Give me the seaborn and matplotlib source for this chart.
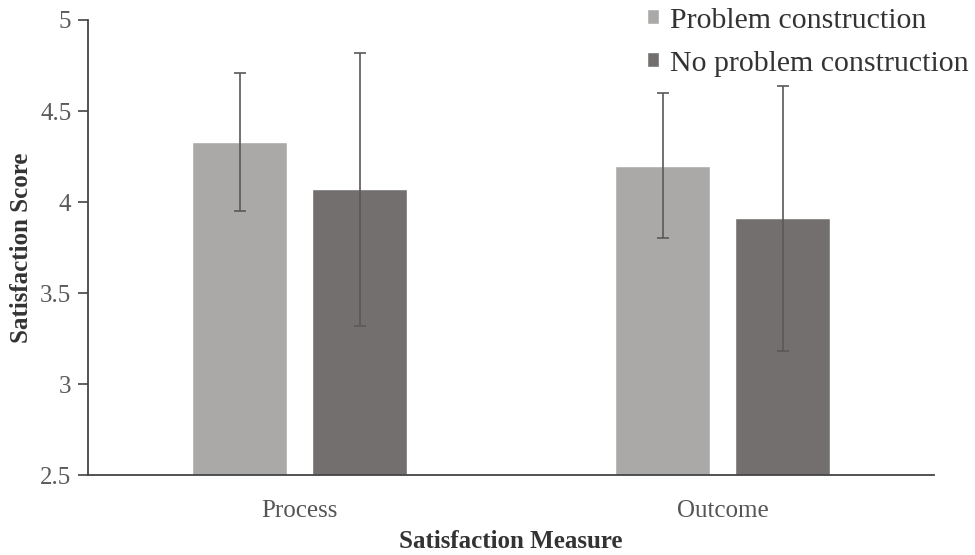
import pandas as pd
import matplotlib
matplotlib.use("Agg")
import matplotlib.pyplot as plt
import seaborn as sns

measures = ["Process", "Outcome"]
conditions = ["Problem construction", "No problem construction"]
means_pc = [4.33, 4.20]
means_npc = [4.07, 3.91]
err_pc = [0.38, 0.40]
err_npc = [0.75, 0.73]

df = pd.DataFrame({
    "Measure": measures * 2,
    "Condition": [conditions[0]] * 2 + [conditions[1]] * 2,
    "Score": means_pc + means_npc,
    "Err": err_pc + err_npc,
})

sns.set_style("white")
plt.rcParams["font.family"] = ["Liberation Serif", "DejaVu Serif"]

fig = plt.figure(figsize=(9.75, 5.55), dpi=100)
ax = fig.add_axes([0.0903, 0.144, 0.868, 0.820])

palette = {conditions[0]: "#aba8a8", conditions[1]: "#736f6f"}
sns.barplot(data=df, x="Measure", y="Score", hue="Condition", order=measures,
            hue_order=conditions, palette=palette, width=0.568, gap=0.21,
            errorbar=None, saturation=1, ax=ax)

# error bars on top of the bars seaborn drew
for cont, cond in zip(ax.containers, conditions):
    sub = df[df["Condition"] == cond].set_index("Measure").loc[measures]
    xs = [p.get_x() + p.get_width() / 2 for p in cont.patches]
    ys = [p.get_height() for p in cont.patches]
    ax.errorbar(xs, ys, yerr=sub["Err"].values, fmt="none", ecolor="#5a5858",
                elinewidth=1.2, capsize=4, capthick=1.2)

ax.set_ylim(2.5, 5)
ax.set_xlim(-0.5, 1.5)
ax.set_yticks([2.5, 3, 3.5, 4, 4.5, 5])
ax.set_yticklabels(["2.5", "3", "3.5", "4", "4.5", "5"])
for bar in ax.patches:
    bar.set_y(2.5)
    bar.set_height(bar.get_height() - 2.5)

ax.set_xticks([0, 1])
ax.set_xticks([-0.5, 0.5, 1.5], minor=True)
ax.tick_params(axis="x", which="major", length=0, pad=18, labelsize=18, labelcolor="#555555")
ax.tick_params(axis="x", which="minor", length=6, width=1.2, color="#444444", direction="out")
ax.tick_params(axis="y", length=7, width=1.2, color="#444444", direction="out",
               labelsize=18, labelcolor="#5a5a5a", left=True, pad=5)

for side in ["top", "right"]:
    ax.spines[side].set_visible(False)
for side in ["left", "bottom"]:
    ax.spines[side].set_color("#444444")
    ax.spines[side].set_linewidth(1.3)

ax.set_xlabel("Satisfaction Measure", fontsize=18, fontweight="bold", color="#333333", labelpad=6)
ax.set_ylabel("Satisfaction Score", fontsize=18, fontweight="bold", color="#333333", labelpad=5)

leg = ax.legend(loc="upper right", bbox_to_anchor=(1.058, 1.06), frameon=False, fontsize=21.5,
                borderpad=0, handlelength=0.4, handleheight=0.4, handletextpad=0.35,
                labelspacing=0.57)
for t in leg.get_texts():
    t.set_color("#333333")

fig.savefig("out.png", dpi=100)
